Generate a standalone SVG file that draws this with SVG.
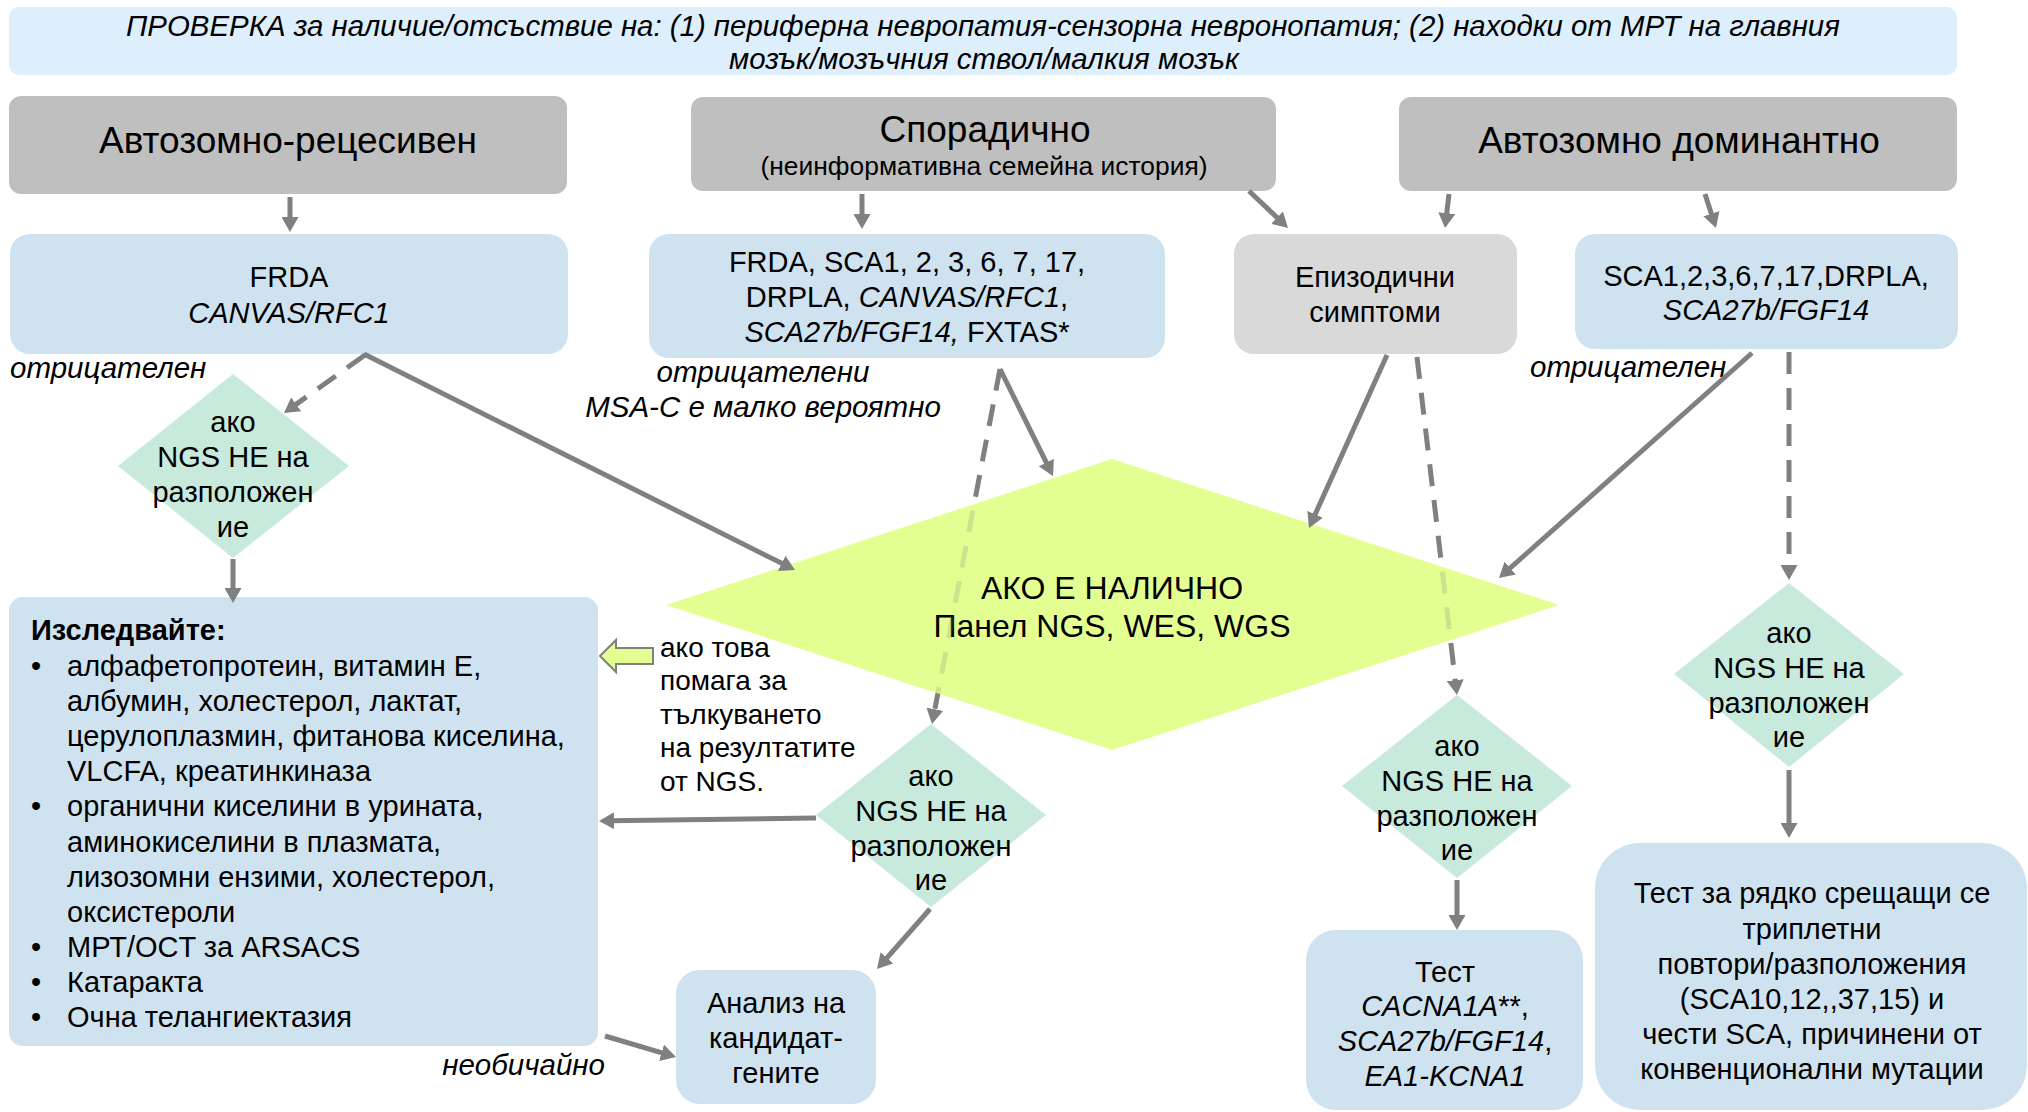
<svg xmlns="http://www.w3.org/2000/svg" width="2028" height="1112" viewBox="0 0 2028 1112">
<style>
text{font-family:"Liberation Sans",Arial,"Noto Sans",sans-serif;fill:#000}
.hd{font-size:37px}
.bx{font-size:29px}
.sm{font-size:26.4px}
.it{font-style:italic}
.lb{font-size:29.5px;font-style:italic}
.nt{font-size:28px}
.mid{text-anchor:middle}
.gray{fill:#BFBFBF}
.lgray{fill:#D9D9D9}
.blue{fill:#CFE2F0}
.green{fill:#C8EADC}
.yel{fill:#E4FF91}
.ln{stroke:#808080;stroke-width:5;fill:none;marker-end:url(#ah)}
.dash{stroke-dasharray:22 14}
</style>
<defs>
<marker id="ah" markerUnits="userSpaceOnUse" markerWidth="15" markerHeight="17" refX="4" refY="8.5" orient="auto">
<path d="M0,0 L15,8.5 L0,17 Z" fill="#808080"/>
</marker>
<mask id="fade" maskUnits="userSpaceOnUse" x="0" y="0" width="2028" height="1112">
<rect x="0" y="0" width="2028" height="1112" fill="#fff"/>
<polygon points="666,605 1112,459 1559,605 1112,750" fill="#3a3a3a"/>
</mask>
</defs>
<rect width="2028" height="1112" fill="#fff"/>

<g id="banner">
<rect x="9" y="7" width="1948" height="68" rx="10" fill="#DDEEFC"/>
<text class="it mid" style="font-size:29.4px" x="983" y="36">ПРОВЕРКА за наличие/отсъствие на: (1) периферна невропатия-сензорна невронопатия; (2) находки от МРТ на главния</text>
<text class="it mid" style="font-size:29.4px" x="984" y="69">мозък/мозъчния ствол/малкия мозък</text>
</g>

<g id="hdr-ar">
<rect class="gray" x="9" y="96" width="558" height="98" rx="12"/>
<text class="hd mid" x="288" y="153">Автозомно-рецесивен</text>
</g>
<g id="hdr-sp">
<rect class="gray" x="691" y="97" width="585" height="94" rx="12"/>
<text class="hd mid" x="985" y="142">Спорадично</text>
<text class="sm mid" x="984" y="175">(неинформативна семейна история)</text>
</g>
<g id="hdr-ad">
<rect class="gray" x="1399" y="97" width="558" height="94" rx="12"/>
<text class="hd mid" x="1679" y="153">Автозомно доминантно</text>
</g>

<g id="box-frda">
<rect class="blue" x="10" y="234" width="558" height="120" rx="20"/>
<text class="bx mid" x="289" y="287">FRDA</text>
<text class="bx mid it" x="289" y="323">CANVAS/RFC1</text>
</g>
<g id="box-sp">
<rect class="blue" x="649" y="234" width="516" height="124" rx="20"/>
<text class="bx mid" x="907" y="272">FRDA, SCA1, 2, 3, 6, 7, 17,</text>
<text class="bx mid" x="907" y="307">DRPLA, <tspan class="it">CANVAS/RFC1</tspan>,</text>
<text class="bx mid" x="907" y="342"><tspan class="it">SCA27b/FGF14,</tspan> FXTAS*</text>
</g>
<g id="box-epi">
<rect class="lgray" x="1234" y="234" width="283" height="120" rx="20"/>
<text class="bx mid" x="1375" y="287">Епизодични</text>
<text class="bx mid" x="1375" y="322">симптоми</text>
</g>
<g id="box-ad">
<rect class="blue" x="1575" y="234" width="383" height="115" rx="20"/>
<text class="bx mid" x="1766" y="286">SCA1,2,3,6,7,17,DRPLA,</text>
<text class="bx mid it" x="1766" y="320">SCA27b/FGF14</text>
</g>

<g id="labels">
<text class="lb" x="10" y="378">отрицателен</text>
<text class="lb mid" x="763" y="382">отрицателени</text>
<text class="lb mid" x="763" y="417">MSA-C е малко вероятно</text>
<text class="lb" x="1530" y="377">отрицателен</text>
<text class="lb" x="605" y="1075" text-anchor="end">необичайно</text>
</g>

<g id="dia-1">
<polygon class="green" points="233,374 349,466 233,558 118,466"/>
<text class="bx mid" x="233" y="432">ако</text>
<text class="bx mid" x="233" y="467">NGS НЕ на</text>
<text class="bx mid" x="233" y="502">разположен</text>
<text class="bx mid" x="233" y="537">ие</text>
</g>

<g id="dia-ngs">
<polygon class="yel" points="666,605 1112,459 1559,605 1112,750"/>
<text class="mid" style="font-size:32px" x="1112" y="599">АКО Е НАЛИЧНО</text>
<text class="mid" style="font-size:32px" x="1112" y="637">Панел NGS, WES, WGS</text>
</g>

<g id="dia-3">
<polygon class="green" points="931,724 1046,815 931,907 816,815"/>
<text class="bx mid" x="931" y="786">ако</text>
<text class="bx mid" x="931" y="821">NGS НЕ на</text>
<text class="bx mid" x="931" y="856">разположен</text>
<text class="bx mid" x="931" y="890">ие</text>
</g>

<g id="dia-4">
<polygon class="green" points="1457,695 1572,786 1457,878 1342,786"/>
<text class="bx mid" x="1457" y="756">ако</text>
<text class="bx mid" x="1457" y="791">NGS НЕ на</text>
<text class="bx mid" x="1457" y="826">разположен</text>
<text class="bx mid" x="1457" y="860">ие</text>
</g>

<g id="dia-5">
<polygon class="green" points="1789,583 1904,674 1789,767 1674,674"/>
<text class="bx mid" x="1789" y="643">ако</text>
<text class="bx mid" x="1789" y="678">NGS НЕ на</text>
<text class="bx mid" x="1789" y="713">разположен</text>
<text class="bx mid" x="1789" y="747">ие</text>
</g>

<g id="box-investigate">
<rect class="blue" x="9" y="597" width="589" height="449" rx="14"/>
<text class="bx" x="31" y="640" font-weight="bold">Изследвайте:</text>
<text class="bx" x="31" y="676">•</text>
<text class="bx" x="67" y="676">алфафетопротеин, витамин Е,</text>
<text class="bx" x="67" y="711">албумин, холестерол, лактат,</text>
<text class="bx" x="67" y="746">церулоплазмин, фитанова киселина,</text>
<text class="bx" x="67" y="781">VLCFA, креатинкиназа</text>
<text class="bx" x="31" y="816">•</text>
<text class="bx" x="67" y="816">органични киселини в урината,</text>
<text class="bx" x="67" y="852">аминокиселини в плазмата,</text>
<text class="bx" x="67" y="887">лизозомни ензими, холестерол,</text>
<text class="bx" x="67" y="922">оксистероли</text>
<text class="bx" x="31" y="957">•</text>
<text class="bx" x="67" y="957">МРТ/OCT за ARSACS</text>
<text class="bx" x="31" y="992">•</text>
<text class="bx" x="67" y="992">Катаракта</text>
<text class="bx" x="31" y="1027">•</text>
<text class="bx" x="67" y="1027">Очна телангиектазия</text>
</g>

<g id="note-help">
<polygon points="600,656 616,640 616,648 653,648 653,664 616,664 616,672" fill="#E4FF91" stroke="#808080" stroke-width="2"/>
<text class="nt" x="660" y="657">ако това</text>
<text class="nt" x="660" y="690">помага за</text>
<text class="nt" x="660" y="724">тълкуването</text>
<text class="nt" x="660" y="757">на резултатите</text>
<text class="nt" x="660" y="791">от NGS.</text>
</g>

<g id="box-cand">
<rect class="blue" x="676" y="970" width="200" height="134" rx="24"/>
<text class="bx mid" x="776" y="1013">Анализ на</text>
<text class="bx mid" x="776" y="1048">кандидат-</text>
<text class="bx mid" x="776" y="1083">гените</text>
</g>

<g id="box-test">
<rect class="blue" x="1306" y="930" width="277" height="180" rx="30"/>
<text class="bx mid" x="1445" y="982">Тест</text>
<text class="bx mid" x="1445" y="1016"><tspan class="it">CACNA1A</tspan>**,</text>
<text class="bx mid" x="1445" y="1051"><tspan class="it">SCA27b/FGF14</tspan>,</text>
<text class="bx mid it" x="1445" y="1086">EA1-KCNA1</text>
</g>

<g id="box-rare">
<rect class="blue" x="1595" y="843" width="432" height="267" rx="45"/>
<text class="bx mid" x="1812" y="903">Тест за рядко срещащи се</text>
<text class="bx mid" x="1812" y="939">триплетни</text>
<text class="bx mid" x="1812" y="974">повтори/разположения</text>
<text class="bx mid" x="1812" y="1009">(SCA10,12,,37,15) и</text>
<text class="bx mid" x="1812" y="1044">чести SCA, причинени от</text>
<text class="bx mid" x="1812" y="1079">конвенционални мутации</text>
</g>

<g id="connectors">
<line class="ln" x1="290" y1="197" x2="290" y2="221"/>
<line class="ln" x1="862" y1="194" x2="862" y2="218"/>
<line class="ln" x1="1249" y1="191" x2="1280" y2="220.4"/>
<line class="ln" x1="1449" y1="194" x2="1446.3" y2="217.1"/>
<line class="ln" x1="1705" y1="194" x2="1712.6" y2="217.5"/>
<line class="ln dash" x1="365" y1="355" x2="292.9" y2="406.6"/>
<line class="ln" x1="364" y1="354" x2="785.2" y2="565.1"/>
<line class="ln" x1="233" y1="559" x2="233" y2="592"/>
<line class="ln" x1="1000" y1="369" x2="1048.1" y2="466.1"/>
<line class="ln dash" x1="1000" y1="369" x2="934.1" y2="713.2" mask="url(#fade)"/>
<line class="ln" x1="1387" y1="355" x2="1313.5" y2="518"/>
<line class="ln dash" x1="1417" y1="357" x2="1455.7" y2="684.1" mask="url(#fade)"/>
<line class="ln" x1="1752" y1="353" x2="1507.2" y2="570.7"/>
<line class="ln dash" x1="1789" y1="352" x2="1789" y2="569"/>
<line class="ln" x1="816" y1="818" x2="610" y2="820.8"/>
<line class="ln" x1="930" y1="909" x2="884.3" y2="960.8"/>
<line class="ln" x1="605" y1="1036" x2="665.4" y2="1053.9"/>
<line class="ln" x1="1457" y1="880" x2="1457" y2="919"/>
<line class="ln" x1="1789" y1="770" x2="1789" y2="827"/>
</g>
</svg>
